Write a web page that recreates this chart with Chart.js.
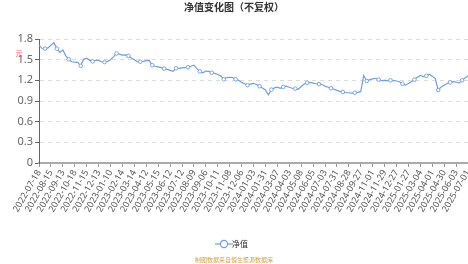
<!DOCTYPE html>
<html>
<head>
<meta charset="utf-8">
<script src="https://cdn.jsdelivr.net/npm/chart.js@4.4.0/dist/chart.umd.min.js"></script>
<style>
html, body { margin: 0; padding: 0; background: #fff; }
#wrap { width: 468px; height: 264px; }
</style>
</head>
<body>
<div id="wrap"><canvas id="navChart"></canvas></div>
<script>
// axis labels, one every 20 trading days
var tickDates = [
    '2022-07-18', '2022-08-15', '2022-09-13', '2022-10-18', '2022-11-15', '2022-12-13',
    '2023-01-10', '2023-02-14', '2023-03-14', '2023-04-12', '2023-05-15', '2023-06-12',
    '2023-07-12', '2023-08-09', '2023-09-06', '2023-10-11', '2023-11-08', '2023-12-06',
    '2024-01-03', '2024-01-31', '2024-03-07', '2024-04-03', '2024-05-08', '2024-06-05',
    '2024-07-03', '2024-07-31', '2024-08-28', '2024-09-27', '2024-11-01', '2024-11-29',
    '2024-12-27', '2025-01-27', '2025-03-04', '2025-04-01', '2025-04-30', '2025-06-03',
    '2025-07-01'
];
var pointsPerTick = 4;

// 净值, sampled about every 5 trading days
var navValues = [
    1.71, 1.665, 1.66, 1.67, 1.71, 1.745, 1.66, 1.605, 1.64, 1.555,
    1.505, 1.47, 1.465, 1.46, 1.41, 1.505, 1.52, 1.49, 1.475, 1.49,
    1.49, 1.47, 1.465, 1.475, 1.50, 1.54, 1.59, 1.58, 1.565, 1.57,
    1.555, 1.525, 1.50, 1.47, 1.47, 1.475, 1.485, 1.49, 1.42, 1.405,
    1.395, 1.385, 1.37, 1.36, 1.345, 1.33, 1.375, 1.375, 1.38, 1.385,
    1.39, 1.405, 1.42, 1.37, 1.33, 1.31, 1.335, 1.33, 1.31, 1.30,
    1.285, 1.265, 1.215, 1.24, 1.245, 1.24, 1.215, 1.20, 1.17, 1.15,
    1.13, 1.145, 1.155, 1.14, 1.115, 1.09, 1.06, 0.99, 1.065, 1.09,
    1.10, 1.085, 1.105, 1.115, 1.10, 1.085, 1.08, 1.07, 1.11, 1.145,
    1.165, 1.17, 1.16, 1.15, 1.145, 1.14, 1.115, 1.10, 1.085, 1.07,
    1.055, 1.04, 1.03, 1.02, 1.02, 1.015, 1.02, 1.025, 1.035, 1.27,
    1.19, 1.21, 1.22, 1.23, 1.21, 1.195, 1.20, 1.195, 1.20, 1.195,
    1.19, 1.18, 1.15, 1.13, 1.155, 1.18, 1.21, 1.245, 1.27, 1.255,
    1.265, 1.29, 1.26, 1.225, 1.06, 1.105, 1.13, 1.155, 1.17, 1.18,
    1.175, 1.16, 1.20, 1.235, 1.265
];
var yTicks = [0, 0.3, 0.6, 0.9, 1.2, 1.5, 1.8];

var lineColor = '#739ee0';

var labels = navValues.map(function(v, i) {
    return i % pointsPerTick === 0 ? tickDates[i / pointsPerTick] : '';
});

// legend icon: short line with a hollow circle
var legendIcon = document.createElement('canvas');
legendIcon.width = 18;
legendIcon.height = 10;
(function() {
    var c = legendIcon.getContext('2d');
    c.strokeStyle = lineColor;
    c.lineWidth = 1.2;
    c.beginPath();
    c.moveTo(0, 5); c.lineTo(18, 5);
    c.stroke();
    c.fillStyle = '#fff';
    c.beginPath();
    c.arc(9, 5, 3.6, 0, Math.PI * 2);
    c.fill();
    c.stroke();
})();

// source note under the legend and the small red unit mark
var extraText = {
    id: 'extraText',
    afterDraw: function(chart) {
        var ctx = chart.ctx;
        ctx.save();
        ctx.textAlign = 'center';
        ctx.textBaseline = 'middle';
        ctx.font = '6px "Noto Sans CJK SC"';
        ctx.fillStyle = '#d2a24c';
        ctx.fillText('制图数据来自恒生聚源数据库', 234, 260);
        ctx.font = '7px "Noto Sans CJK SC"';
        ctx.fillStyle = '#ff5a5a';
        ctx.fillText('元', 19, 53);
        ctx.restore();
    }
};

Chart.defaults.font.family = '"Noto Sans CJK SC", "Noto Sans", sans-serif';

new Chart(document.getElementById('navChart'), {
    type: 'line',
    data: {
        labels: labels,
        datasets: [{
            label: '净值',
            data: navValues,
            borderColor: lineColor,
            borderWidth: 1.2,
            backgroundColor: '#fff',
            pointBorderColor: lineColor,
            pointBackgroundColor: '#fff',
            pointBorderWidth: 0.9,
            pointRadius: function(ctx) { return ctx.dataIndex % 4 === 2 ? 1.8 : 0; },
            tension: 0,
            fill: false
        }]
    },
    options: {
        responsive: true,
        maintainAspectRatio: false,
        animation: false,
        layout: { padding: { left: 0, right: 0, top: 0, bottom: 6 } },
        scales: {
            x: {
                type: 'category',
                offset: false,
                afterFit: function(s) { s.height = 73; s.paddingLeft = 0; s.paddingRight = 0; },
                grid: { display: true, drawOnChartArea: false, tickLength: 4, tickColor: '#999' },
                border: { display: true, color: '#aaa', width: 2 },
                ticks: {
                    autoSkip: false,
                    minRotation: 60,
                    maxRotation: 60,
                    padding: 1,
                    color: '#555',
                    font: { size: 9, family: '"Noto Sans", sans-serif' },
                    callback: function(v, i) { return labels[i] === '' ? null : labels[i]; }
                }
            },
            y: {
                min: 0,
                max: 1.8,
                afterFit: function(s) { s.width = 39; },
                afterBuildTicks: function(s) { s.ticks = yTicks.map(function(v) { return { value: v }; }); },
                grid: { color: '#dcdcdc', tickColor: '#666', tickLength: 4, lineWidth: 1 },
                border: { display: true, color: '#666', width: 1, dash: [4, 4] },
                ticks: {
                    color: '#666',
                    padding: 2,
                    font: { size: 11, family: '"Noto Sans", sans-serif' },
                    callback: function(v) { return String(v); }
                }
            }
        },
        plugins: {
            title: {
                display: true,
                text: '净值变化图（不复权）',
                color: '#333',
                font: { size: 10, weight: 'bold' },
                padding: { top: 1.5, bottom: 25.5 }
            },
            legend: {
                display: true,
                position: 'bottom',
                labels: {
                    color: '#333',
                    font: { size: 8 },
                    padding: 4,
                    usePointStyle: true,
                    generateLabels: function(chart) {
                        return chart.data.datasets.map(function(ds, i) {
                            return { text: ds.label, pointStyle: legendIcon, datasetIndex: i, fontColor: '#333', lineWidth: 0, strokeStyle: lineColor, fillStyle: '#fff' };
                        });
                    }
                }
            },
            tooltip: { enabled: false }
        }
    },
    plugins: [extraText]
});
</script>
</body>
</html>
